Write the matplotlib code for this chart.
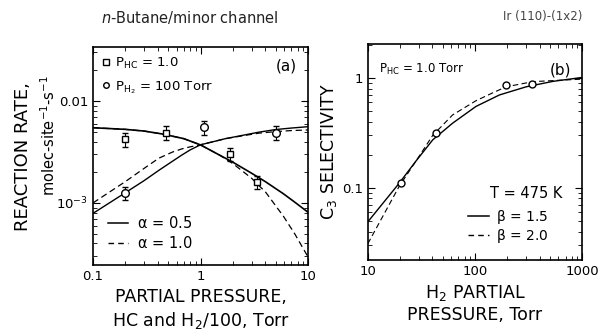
import numpy as np
import matplotlib.pyplot as plt
from matplotlib.lines import Line2D

# ---- panel (a) data ----
# P_HC = 1.0 data points (squares)
sq_x = [0.2, 0.48, 1.88, 3.35]
sq_y = [0.0042, 0.0049, 0.0030, 0.0016]
# P_H2 = 100 Torr data points (circles)
ci_x = [0.2, 1.08, 5.0]
ci_y = [0.00125, 0.0055, 0.0049]
err_frac = 0.15

# model curves
inc_x = [0.1, 0.2, 0.3, 0.41, 0.55, 0.67, 0.8, 1.0, 1.3, 1.7, 2.5, 3.5, 5.0, 7.0, 10.0]
inc_a05 = [7.9e-4, 1.26e-3, 1.66e-3, 2.09e-3, 2.57e-3, 2.95e-3, 3.31e-3, 3.72e-3,
           3.98e-3, 4.27e-3, 4.62e-3, 4.95e-3, 5.25e-3, 5.43e-3, 5.60e-3]
inc_a10 = [1.0e-3, 1.62e-3, 2.19e-3, 2.75e-3, 3.16e-3, 3.39e-3, 3.55e-3, 3.72e-3,
           3.98e-3, 4.27e-3, 4.57e-3, 4.84e-3, 5.01e-3, 5.13e-3, 5.20e-3]
dec_x = [0.1, 0.2, 0.3, 0.45, 0.7, 1.0, 1.5, 2.0, 3.0, 4.0, 5.9, 7.5, 10.0]
dec_a05 = [5.47e-3, 5.27e-3, 5.07e-3, 4.73e-3, 4.27e-3, 3.71e-3, 2.95e-3, 2.51e-3,
           1.95e-3, 1.62e-3, 1.23e-3, 1.02e-3, 8.1e-4]
dec10_x = [0.1, 0.2, 0.3, 0.45, 0.7, 1.0, 1.5, 2.0, 3.0, 3.33, 4.0, 5.9, 7.5, 10.0]
dec_a10 = [5.47e-3, 5.27e-3, 5.07e-3, 4.73e-3, 4.27e-3, 3.71e-3, 2.95e-3, 2.43e-3,
           1.74e-3, 1.55e-3, 1.29e-3, 7.4e-4, 5.0e-4, 2.95e-4]

# ---- panel (b) data ----
sel_x = [20.3, 43, 195, 341]
sel_y = [0.11, 0.314, 0.86, 0.88]
b15_x = [10, 19.6, 28.1, 40.3, 61.7, 102, 169, 300, 532, 1000]
b_15 = [0.049, 0.11, 0.175, 0.273, 0.387, 0.55, 0.70, 0.83, 0.93, 1.01]
b20_x = [10, 19.6, 28.1, 40.3, 61.7, 102, 150, 195, 347, 1000]
b_20 = [0.031, 0.103, 0.175, 0.30, 0.46, 0.62, 0.74, 0.83, 0.925, 0.975]

plt.rcParams['font.family'] = 'DejaVu Sans'
plt.rcParams['font.size'] = 10
plt.rcParams['mathtext.default'] = 'regular'
fig = plt.figure(figsize=(6.04, 3.30), dpi=100)
ax1 = fig.add_axes([0.154, 0.197, 0.356, 0.661])
ax2 = fig.add_axes([0.609, 0.212, 0.355, 0.655])

for ax in (ax1, ax2):
    ax.set_xscale('log')
    ax.set_yscale('log')
    ax.tick_params(which='both', direction='in', top=True, right=True, labelsize=9.5)
    ax.tick_params(which='major', length=5)
    ax.tick_params(which='minor', length=3)
    for s in ax.spines.values():
        s.set_linewidth(1.2)

# panel (a)
ax1.plot(dec_x, dec_a05, 'k-', lw=1.2)
ax1.plot(dec10_x, dec_a10, 'k--', lw=0.9, dashes=(5, 3))
ax1.plot(inc_x, inc_a05, 'k-', lw=1.0)
ax1.plot(inc_x, inc_a10, 'k--', lw=0.9, dashes=(5, 3))
sq_err = [np.array(sq_y) * err_frac, np.array(sq_y) * err_frac]
ci_err = [np.array(ci_y) * err_frac, np.array(ci_y) * err_frac]
ax1.errorbar(sq_x, sq_y, yerr=sq_err, fmt='s', mfc='white', mec='k', ecolor='k',
             ms=5, capsize=2.5, elinewidth=0.8, zorder=3)
ax1.errorbar(ci_x, ci_y, yerr=ci_err, fmt='o', mfc='white', mec='k', ecolor='k',
             ms=5.5, capsize=2.5, elinewidth=0.8, zorder=3)
ax1.set_xlim(0.1, 10)
ax1.set_ylim(2.46e-4, 0.034)
ax1.set_xticks([0.1, 1, 10])
ax1.set_xticklabels(['0.1', '1', '10'])
ax1.set_yticks([0.001, 0.01])
ax1.set_yticklabels(['10$^{-3}$', '0.01'])
ax1.set_title('$\\mathit{n}$-Butane/minor channel', fontsize=10.5, pad=17, x=0.45, color='#222')
ax1.set_xlabel('PARTIAL PRESSURE,\nHC and H$_2$/100, Torr', fontsize=12.5, labelpad=4)
fig.text(0.038, 0.525, 'REACTION RATE,', rotation=90, ha='center', va='center', fontsize=13)
fig.text(0.080, 0.59, 'molec-site$^{-1}$-s$^{-1}$', rotation=90, ha='center', va='center',
         fontsize=10.5)
ax1.text(0.95, 0.91, '(a)', transform=ax1.transAxes, ha='right', va='center', fontsize=11)

h_sq = Line2D([], [], ls='none', marker='s', mfc='white', mec='k', ms=4)
h_ci = Line2D([], [], ls='none', marker='o', mfc='white', mec='k', ms=4)
leg1 = ax1.legend([h_sq, h_ci], ['P$_{HC}$ = 1.0', 'P$_{H_2}$ = 100 Torr'],
                  loc='upper left', frameon=False, fontsize=9.5, handlelength=0.6,
                  handletextpad=0.4, borderaxespad=0.3, labelspacing=0.6)
ax1.add_artist(leg1)
h_s = Line2D([], [], color='k', ls='-', lw=1.1)
h_d = Line2D([], [], color='k', ls='--', lw=1.0, dashes=(4, 3))
ax1.legend([h_s, h_d], ['$\\alpha$ = 0.5', '$\\alpha$ = 1.0'], loc='lower left',
           bbox_to_anchor=(0.07, 0.065), frameon=False, fontsize=10.5, handlelength=1.4,
           handletextpad=0.6, labelspacing=0.25, borderpad=0, borderaxespad=0)

# panel (b)
ax2.plot(b15_x, b_15, 'k-', lw=1.0)
ax2.plot(b20_x, b_20, 'k--', lw=0.8, dashes=(5, 3))
ax2.plot(sel_x, sel_y, 'o', mfc='white', mec='k', ms=5, zorder=3)
ax2.set_xlim(10, 1000)
ax2.set_ylim(0.022, 2.04)
ax2.set_xticks([10, 100, 1000])
ax2.set_xticklabels(['10', '100', '1000'])
ax2.set_yticks([0.1, 1])
ax2.set_yticklabels(['0.1', '1'])
ax2.set_xlabel('H$_2$ PARTIAL\nPRESSURE, Torr', fontsize=12.5, labelpad=4)
ax2.set_ylabel('C$_3$ SELECTIVITY', fontsize=12.5, labelpad=2)
ax2.set_title('Ir (110)-(1x2)', fontsize=8.5, pad=17, loc='right', color='#444')
ax2.text(0.05, 0.88, 'P$_{HC}$ = 1.0 Torr', transform=ax2.transAxes, ha='left', va='center',
         fontsize=8.5)
ax2.text(0.95, 0.88, '(b)', transform=ax2.transAxes, ha='right', va='center', fontsize=11)
ax2.text(0.905, 0.31, 'T = 475 K', transform=ax2.transAxes, ha='right', va='center', fontsize=10.5)
ax2.legend([h_s, h_d], ['$\\beta$ = 1.5', '$\\beta$ = 2.0'], loc='lower right',
           bbox_to_anchor=(0.84, 0.07), frameon=False, fontsize=10, handlelength=1.5,
           handletextpad=0.5, labelspacing=0.05, borderpad=0, borderaxespad=0)

fig.savefig('out.png', dpi=100)
